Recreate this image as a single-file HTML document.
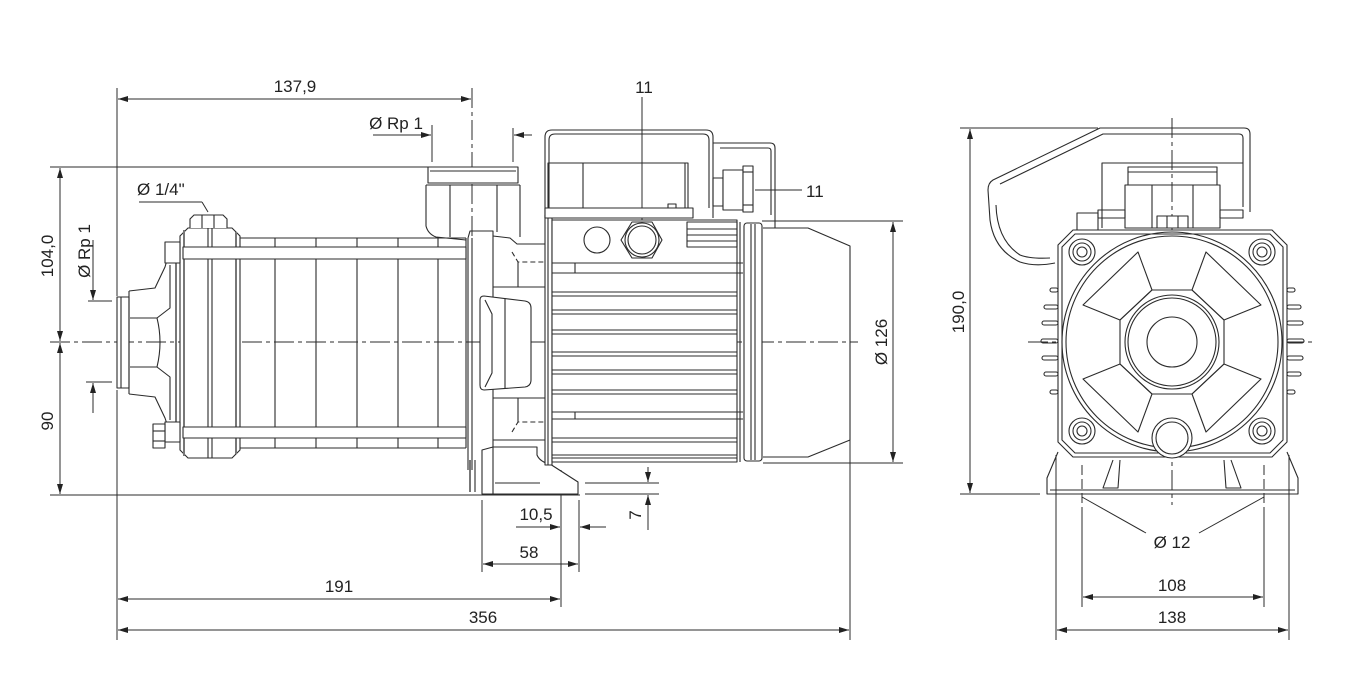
<!DOCTYPE html>
<html><head><meta charset="utf-8"><style>
html,body{margin:0;padding:0;background:#fff;}
svg{display:block;}
text{font-family:"Liberation Sans",sans-serif;font-size:17px;fill:#222;}
</style></head><body>
<svg width="1355" height="696" viewBox="0 0 1355 696" xmlns="http://www.w3.org/2000/svg">
<defs>
<marker id="a" viewBox="0 0 10 6" refX="10" refY="3" markerWidth="10" markerHeight="6" markerUnits="userSpaceOnUse" orient="auto-start-reverse"><path d="M0,0L10,3L0,6z" fill="#222"/></marker>
</defs>
<rect width="1355" height="696" fill="#fff"/>

<!-- ================= LEFT VIEW: DIMENSIONS ================= -->
<g fill="none" stroke="#2b2b2b" stroke-width="1">
  <line x1="50" y1="167" x2="428" y2="167"/>
  <line x1="50" y1="495" x2="580" y2="495"/>
  <line x1="60" y1="168" x2="60" y2="341" marker-start="url(#a)" marker-end="url(#a)"/>
  <line x1="60" y1="343" x2="60" y2="494" marker-start="url(#a)" marker-end="url(#a)"/>
  <line x1="93" y1="240" x2="93" y2="300" marker-end="url(#a)"/>
  <line x1="88" y1="301" x2="112" y2="301"/>
  <line x1="86" y1="382" x2="112" y2="382"/>
  <line x1="93" y1="413" x2="93" y2="383" marker-end="url(#a)"/>
  <line x1="117" y1="88" x2="117" y2="296"/>
  <line x1="117" y1="390" x2="117" y2="640"/>
  <line x1="118" y1="99" x2="471" y2="99" marker-start="url(#a)" marker-end="url(#a)"/>
  <line x1="472" y1="88" x2="472" y2="255" stroke-dasharray="20 4 4 4"/>
  <line x1="373" y1="135" x2="431" y2="135" marker-end="url(#a)"/>
  <line x1="432" y1="125" x2="432" y2="162"/>
  <line x1="513" y1="128" x2="513" y2="162"/>
  <line x1="532" y1="135" x2="514" y2="135" marker-end="url(#a)"/>
  <line x1="642" y1="97" x2="642" y2="222"/>
  <line x1="755" y1="190" x2="802" y2="190"/>
  <line x1="762" y1="221" x2="903" y2="221"/>
  <line x1="763" y1="463" x2="903" y2="463"/>
  <line x1="893" y1="222" x2="893" y2="462" marker-start="url(#a)" marker-end="url(#a)"/>
  <line x1="850" y1="440" x2="850" y2="640"/>
  <line x1="139" y1="202" x2="202" y2="202"/>
  <line x1="202" y1="202" x2="208" y2="212"/>
  <!-- bottom dims -->
  <line x1="561" y1="470" x2="561" y2="607"/>
  <line x1="579" y1="500" x2="579" y2="572"/>
  <line x1="482" y1="500" x2="482" y2="572"/>
  <line x1="516" y1="527" x2="560" y2="527" marker-end="url(#a)"/>
  <line x1="606" y1="527" x2="580" y2="527" marker-end="url(#a)"/>
  <line x1="483" y1="564" x2="578" y2="564" marker-start="url(#a)" marker-end="url(#a)"/>
  <line x1="118" y1="599" x2="560" y2="599" marker-start="url(#a)" marker-end="url(#a)"/>
  <line x1="118" y1="630" x2="849" y2="630" marker-start="url(#a)" marker-end="url(#a)"/>
  <line x1="585" y1="483" x2="659" y2="483"/>
  <line x1="585" y1="494" x2="659" y2="494"/>
  <line x1="648" y1="467" x2="648" y2="482" marker-end="url(#a)"/>
  <line x1="648" y1="530" x2="648" y2="495" marker-end="url(#a)"/>
  <!-- centerline -->
  <line x1="50" y1="342" x2="858" y2="342" stroke-dasharray="20 4 4 4"/>
</g>

<g>
  <text x="295" y="92" text-anchor="middle">137,9</text>
  <text x="396" y="129" text-anchor="middle">Ø Rp 1</text>
  <text x="137" y="195">Ø 1/4"</text>
  <text transform="translate(53,256) rotate(-90)" text-anchor="middle">104,0</text>
  <text transform="translate(53,421) rotate(-90)" text-anchor="middle">90</text>
  <text transform="translate(90,251) rotate(-90)" text-anchor="middle">Ø Rp 1</text>
  <text x="644" y="93" text-anchor="middle">11</text>
  <text x="806" y="197">11</text>
  <text transform="translate(887,342) rotate(-90)" text-anchor="middle">Ø 126</text>
  <text x="536" y="520" text-anchor="middle">10,5</text>
  <text x="529" y="558" text-anchor="middle">58</text>
  <text x="339" y="592" text-anchor="middle">191</text>
  <text x="483" y="623" text-anchor="middle">356</text>
  <text transform="translate(641,515) rotate(-90)" text-anchor="middle">7</text>
</g>

<!-- ================= LEFT VIEW: PUMP ================= -->
<g fill="none" stroke="#2b2b2b" stroke-width="1.1" stroke-linejoin="round">
  <!-- inlet -->
  <rect x="117" y="297" width="12" height="91" fill="#fff"/>
  <line x1="121" y1="297" x2="121" y2="388"/>
  <path d="M129,291 L155,288 L165,267 L167,260"/>
  <path d="M129,394 L155,397 L165,418 L167,424"/>
  <line x1="129" y1="291" x2="129" y2="394"/>
  <path d="M130,318 L157,318 Q163,342 157,367 L130,367"/>
  <path d="M157,318 L170,308 L170,265"/>
  <path d="M157,367 L170,377 L170,420"/>
  <line x1="176" y1="263" x2="176" y2="422" stroke="#777" stroke-width="2"/>
  <!-- end cap -->
  <path d="M180,236 L188,228 L232,228 L240,236 L240,450 L232,458 L188,458 L180,450 Z" fill="#fff"/>
  <line x1="184" y1="230" x2="184" y2="456" stroke="#777" stroke-width="2"/>
  <line x1="208" y1="228" x2="208" y2="458"/>
  <line x1="212" y1="228" x2="212" y2="458"/>
  <line x1="236" y1="232" x2="236" y2="454" stroke="#777" stroke-width="2"/>
  <path d="M190,228 L190,219 L194,215 L223,215 L227,219 L227,228" fill="#fff"/>
  <line x1="202" y1="215" x2="202" y2="228"/>
  <line x1="214" y1="215" x2="214" y2="228"/>
  <!-- stage section -->
  <path d="M240,238 L466,238 M240,448 L466,448"/>
  <line x1="275" y1="238" x2="275" y2="448"/>
  <line x1="316" y1="238" x2="316" y2="448"/>
  <line x1="357" y1="238" x2="357" y2="448"/>
  <line x1="398" y1="238" x2="398" y2="448"/>
  <line x1="438" y1="238" x2="438" y2="448"/>
  <line x1="466" y1="238" x2="466" y2="448"/>
  <!-- tie rods -->
  <rect x="183" y="247" width="283" height="12" fill="#fff"/>
  <rect x="183" y="427" width="283" height="11" fill="#fff"/>
  <rect x="165" y="242" width="15" height="21" fill="#fff"/>
  <rect x="165" y="422" width="15" height="20" fill="#fff"/>
  <rect x="153" y="424" width="12" height="24" fill="#fff"/>
  <line x1="153" y1="431" x2="165" y2="431"/>
  <line x1="153" y1="441" x2="165" y2="441"/>
  <!-- discharge port -->
  <rect x="428" y="167" width="90" height="16" fill="#fff"/>
  <line x1="430" y1="171" x2="516" y2="171"/>
  <path d="M426,185 L426,226 Q428,234 436,237 L466,240"/>
  <line x1="426" y1="185" x2="520" y2="185"/>
  <line x1="520" y1="185" x2="520" y2="237"/>
  <line x1="450" y1="185" x2="450" y2="237"/>
  <line x1="497" y1="185" x2="497" y2="232"/>
  <!-- flange -->
  <path d="M468,238 L470,231 L493,231 L493,460"/>
  <line x1="468" y1="238" x2="468" y2="470"/>
  <line x1="472" y1="238" x2="472" y2="470"/>
  <line x1="470" y1="460" x2="470" y2="492" stroke="#777" stroke-width="2"/>
  <line x1="475" y1="460" x2="475" y2="492"/>
  <!-- volute -->
  <path d="M493,236 L510,238 L517,244 L545,244"/>
  <line x1="493" y1="287" x2="545" y2="287"/>
  <path d="M512,252 L518,262 L545,262" stroke-dasharray="5 3"/>
  <line x1="518" y1="262" x2="518" y2="287"/>
  <path d="M484,296 L525,301 Q531,302 531,308 L531,380 Q531,386 525,387 L484,390 Q480,390 480,385 L480,300 Q480,296 484,296Z" fill="#fff"/>
  <path d="M485,300 L492,314 L492,373 L485,387"/>
  <line x1="505" y1="298" x2="505" y2="389"/>
  <line x1="493" y1="398" x2="545" y2="398"/>
  <path d="M512,432 L518,422 L545,422" stroke-dasharray="5 3"/>
  <line x1="518" y1="398" x2="518" y2="422"/>
  <line x1="493" y1="440" x2="545" y2="440"/>
  <!-- foot -->
  <path d="M482,494 L482,450 L493,447 L537,447 L537,455 Q540,462 550,464 L578,482 L578,494 Z" fill="#fff"/>
  <line x1="493" y1="447" x2="493" y2="494"/>
  <line x1="495" y1="483" x2="540" y2="483"/>
  <!-- motor flange -->
  <rect x="545" y="215" width="7" height="250" fill="#fff"/>
  <line x1="548" y1="215" x2="548" y2="465"/>
  <!-- motor body -->
  <rect x="552" y="220" width="185" height="242" fill="#fff"/>
  <rect x="687" y="222" width="50" height="25"/>
  <line x1="687" y1="229" x2="737" y2="229"/>
  <line x1="687" y1="235" x2="737" y2="235"/>
  <line x1="687" y1="241" x2="737" y2="241"/>
  <circle cx="597" cy="240" r="13"/>
  <polygon points="662,240 652,258 632,258 621,240 632,222 652,222"/>
  <circle cx="642" cy="240" r="17"/>
  <circle cx="642" cy="240" r="14"/>
  <line x1="552" y1="263" x2="743" y2="263"/>
  <line x1="552" y1="273" x2="743" y2="273"/>
  <line x1="575" y1="263" x2="575" y2="273"/>
  <line x1="552" y1="412" x2="743" y2="412"/>
  <line x1="552" y1="419" x2="743" y2="419"/>
  <line x1="575" y1="412" x2="575" y2="419"/>
  <path d="M552,292H737M552,296H737M552,310H737M552,314H737M552,330H737M552,334H737M552,352H737M552,356H737M552,370H737M552,374H737M552,390H737M552,394H737M552,438H737M552,442H737M552,455H737M552,458H737"/>
  <line x1="740" y1="222" x2="740" y2="462"/>
  <!-- terminal box -->
  <path d="M545,218 L545,137 Q545,130 552,130 L706,130 Q713,130 713,137 L713,218"/>
  <path d="M549,208 L549,140 Q549,134 555,134 L703,134 Q709,134 709,140 L709,208"/>
  <rect x="545" y="208" width="148" height="10" fill="#fff"/>
  <rect x="548" y="163" width="140" height="45"/>
  <line x1="583" y1="163" x2="583" y2="208"/>
  <line x1="685" y1="163" x2="685" y2="208"/>
  <rect x="668" y="204" width="8" height="4"/>
  <!-- handle -->
  <path d="M713,143 L770,143 Q775,143 775,148 L775,228"/>
  <path d="M720,148 L768,148 Q771,148 771,151 L771,215"/>
  <!-- cable gland -->
  <rect x="713" y="178" width="10" height="28"/>
  <rect x="723" y="170" width="20" height="40" fill="#fff"/>
  <rect x="743" y="166" width="10" height="46" fill="#fff"/>
  <line x1="743" y1="172" x2="753" y2="172"/>
  <line x1="743" y1="205" x2="753" y2="205"/>
  <!-- fan cover -->
  <rect x="744" y="223" width="18" height="238" rx="3" fill="#fff"/>
  <line x1="751" y1="224" x2="751" y2="460"/>
  <line x1="755" y1="224" x2="755" y2="460"/>
  <path d="M763,228 L808,228 L850,246 L850,440 L808,457 L763,457"/>
</g>

<!-- ================= RIGHT VIEW ================= -->
<g fill="none" stroke="#2b2b2b" stroke-width="1">
  <line x1="960" y1="128" x2="1098" y2="128"/>
  <line x1="960" y1="494" x2="1040" y2="494"/>
  <line x1="970" y1="129" x2="970" y2="493" marker-start="url(#a)" marker-end="url(#a)"/>
  <line x1="1082" y1="465" x2="1082" y2="515" stroke-dasharray="10 4"/>
  <line x1="1082" y1="515" x2="1082" y2="607"/>
  <line x1="1264" y1="465" x2="1264" y2="515" stroke-dasharray="10 4"/>
  <line x1="1264" y1="515" x2="1264" y2="607"/>
  <line x1="1056" y1="455" x2="1056" y2="640"/>
  <line x1="1289" y1="455" x2="1289" y2="640"/>
  <line x1="1082" y1="497" x2="1146" y2="533"/>
  <line x1="1264" y1="497" x2="1199" y2="533"/>
  <line x1="1083" y1="597" x2="1263" y2="597" marker-start="url(#a)" marker-end="url(#a)"/>
  <line x1="1057" y1="630" x2="1288" y2="630" marker-start="url(#a)" marker-end="url(#a)"/>
  <line x1="1172" y1="118" x2="1172" y2="505" stroke-dasharray="20 4 4 4"/>
  <line x1="1028" y1="342" x2="1315" y2="342" stroke-dasharray="20 4 4 4"/>
</g>
<g>
  <text transform="translate(964,312) rotate(-90)" text-anchor="middle">190,0</text>
  <text x="1172" y="548" text-anchor="middle">Ø 12</text>
  <text x="1172" y="591" text-anchor="middle">108</text>
  <text x="1172" y="623" text-anchor="middle">138</text>
</g>

<g fill="none" stroke="#2b2b2b" stroke-width="1.1" stroke-linejoin="round">
  <!-- handle -->
  <path d="M1250,212 L1250,134 Q1250,128 1244,128 L1100,128 L993,180 Q988,183 988,190 L990,220 Q994,250 1020,262 Q1035,267 1055,263"/>
  <path d="M1243,207 L1243,138 Q1243,134 1239,134 L1103,134 L1000,184"/>
  <path d="M996,205 Q997,240 1020,255 Q1030,259 1050,258"/>
  <!-- top block -->
  <path d="M1102,228 L1102,163 L1243,163"/>
  <rect x="1128" y="167" width="89" height="18"/>
  <line x1="1128" y1="172" x2="1217" y2="172"/>
  <rect x="1125" y="185" width="95" height="43"/>
  <line x1="1152" y1="185" x2="1152" y2="228"/>
  <line x1="1193" y1="185" x2="1193" y2="228"/>
  <rect x="1157" y="216" width="31" height="12" fill="#fff"/>
  <line x1="1167" y1="216" x2="1167" y2="228"/>
  <line x1="1178" y1="216" x2="1178" y2="228"/>
  <rect x="1077" y="213" width="21" height="17"/>
  <rect x="1098" y="210" width="27" height="8"/>
  <rect x="1220" y="210" width="23" height="8"/>
  <!-- fins -->
  <g>
    <rect x="1050" y="288" width="8" height="4" rx="2"/>
    <rect x="1044" y="305" width="14" height="4" rx="2"/>
    <rect x="1042" y="321" width="16" height="4" rx="2"/>
    <rect x="1041" y="339" width="17" height="4" rx="2"/>
    <rect x="1042" y="356" width="16" height="4" rx="2"/>
    <rect x="1044" y="372" width="14" height="4" rx="2"/>
    <rect x="1050" y="390" width="8" height="4" rx="2"/>
    <rect x="1287" y="288" width="8" height="4" rx="2"/>
    <rect x="1287" y="305" width="14" height="4" rx="2"/>
    <rect x="1287" y="321" width="16" height="4" rx="2"/>
    <rect x="1287" y="339" width="17" height="4" rx="2"/>
    <rect x="1287" y="356" width="16" height="4" rx="2"/>
    <rect x="1287" y="372" width="14" height="4" rx="2"/>
    <rect x="1287" y="390" width="8" height="4" rx="2"/>
  </g>
  <!-- body -->
  <polygon points="1073,230 1272,230 1287,245 1287,442 1272,457 1073,457 1058,442 1058,245" fill="#fff"/>
  <polygon points="1075,234 1270,234 1283,247 1283,440 1270,453 1075,453 1062,440 1062,247"/>
  <circle cx="1172" cy="342" r="110"/>
  <circle cx="1172" cy="342" r="106"/>
  <polygon points="1083,305 1138,252 1152,290 1120,320"/>
  <polygon points="1261,305 1206,252 1192,290 1224,320"/>
  <polygon points="1083,379 1138,432 1152,394 1120,364"/>
  <polygon points="1261,379 1206,432 1192,394 1224,364"/>
  <polygon points="1120,320 1152,290 1192,290 1224,320 1224,364 1192,394 1152,394 1120,364"/>
  <circle cx="1172" cy="342" r="47"/>
  <circle cx="1172" cy="342" r="44"/>
  <circle cx="1172" cy="342" r="25"/>
  <g>
    <circle cx="1082" cy="252" r="13"/><circle cx="1082" cy="252" r="9"/><circle cx="1082" cy="252" r="5"/>
    <circle cx="1262" cy="252" r="13"/><circle cx="1262" cy="252" r="9"/><circle cx="1262" cy="252" r="5"/>
    <circle cx="1082" cy="431" r="13"/><circle cx="1082" cy="431" r="9"/><circle cx="1082" cy="431" r="5"/>
    <circle cx="1262" cy="431" r="13"/><circle cx="1262" cy="431" r="9"/><circle cx="1262" cy="431" r="5"/>
  </g>
  <circle cx="1172" cy="438" r="20" fill="#fff"/>
  <circle cx="1172" cy="438" r="16"/>
  <!-- feet -->
  <path d="M1058,452 L1047,478 L1047,494 L1298,494 L1298,478 L1287,452"/>
  <line x1="1050" y1="490" x2="1295" y2="490"/>
  <path d="M1113,460 L1103,488 L1118,488 L1120,460"/>
  <path d="M1231,460 L1241,488 L1226,488 L1224,460"/>
</g>
</svg>
</body></html>
